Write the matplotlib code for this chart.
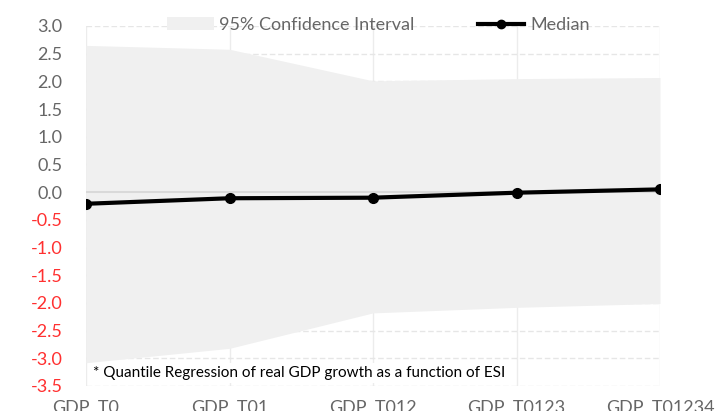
import matplotlib
matplotlib.use("Agg")
import matplotlib.pyplot as plt
from matplotlib.patches import Patch
from matplotlib.lines import Line2D

categories = ["GDP_T0", "GDP_T01", "GDP_T012", "GDP_T0123", "GDP_T01234"]
upper = [2.65, 2.58, 2.01, 2.05, 2.07]
lower = [-3.08, -2.82, -2.18, -2.08, -2.01]
median = [-0.21, -0.11, -0.10, -0.01, 0.05]
yticks = [3.0, 2.5, 2.0, 1.5, 1.0, 0.5, 0.0, -0.5, -1.0, -1.5, -2.0, -2.5, -3.0, -3.5]
note = "* Quantile Regression of real GDP growth as a function of ESI"

plt.rcParams['font.family'] = ['Lato', 'DejaVu Sans']
grey_txt = '#666666'

fig = plt.figure(figsize=(7.24, 4.11), dpi=100)
ax = fig.add_axes([86/724, 1-386/411, (660-86)/724, (386-26)/411])

x = list(range(len(categories)))
ax.fill_between(x, lower, upper, color='#f0f0f0', lw=0, zorder=2)
ax.axhline(0, color='#d9d9d9', lw=1.5, zorder=3)
ax.plot(x, median, color='black', lw=3, marker='o', ms=7, zorder=4)

ax.set_xlim(0, len(categories)-1)
ax.set_ylim(-3.5, 3.0)
ax.set_yticks(yticks)
ax.set_yticklabels([f"{v:.1f}" for v in yticks])
for lbl, v in zip(ax.get_yticklabels(), yticks):
    lbl.set_color('#ff3030' if v < 0 else grey_txt)
ax.set_xticks(x)
ax.set_xticklabels(categories, color=grey_txt)
ax.tick_params(axis='both', length=0, labelsize=13)
ax.tick_params(axis='y', pad=17)
ax.tick_params(axis='x', pad=10)

ax.yaxis.grid(True, color='#e6e6e6', lw=1, ls=(0, (4, 2)), zorder=1)
ax.xaxis.grid(True, color='#ececec', lw=1, zorder=1)
ax.set_axisbelow(True)
for s in ax.spines.values():
    s.set_visible(False)

ax.text(93/724, 1-373/411, note, transform=fig.transFigure, fontsize=11,
        color='black', va='center', ha='left', zorder=5,
        bbox=dict(facecolor='white', edgecolor='none', pad=2))

handles = [Patch(facecolor='#f0f0f0', edgecolor='none'),
           Line2D([0], [0], color='black', lw=3, marker='o', ms=6)]
leg = fig.legend(handles, ["95% Confidence Interval", "Median"], ncol=2,
                 loc='center', bbox_to_anchor=(378/724, 1-25/411), frameon=False,
                 fontsize=13, handlelength=2.6, handletextpad=0.3,
                 columnspacing=3.5, labelcolor=grey_txt)

fig.savefig("out.png", dpi=100)
